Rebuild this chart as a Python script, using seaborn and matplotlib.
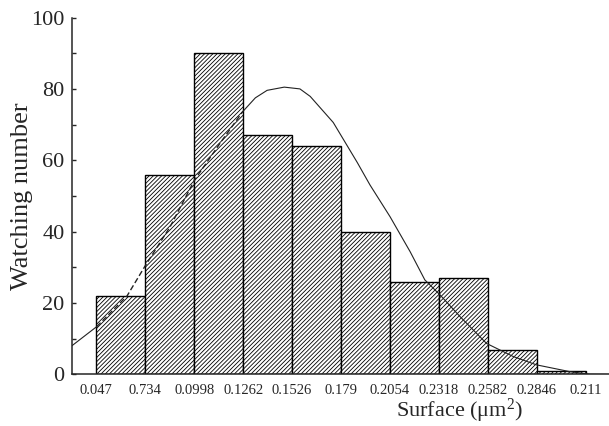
import numpy as np
import pandas as pd
import matplotlib
matplotlib.use("Agg")
import matplotlib.pyplot as plt
import seaborn as sns

# ---- data ----
bins = ["b1", "b2", "b3", "b4", "b5", "b6", "b7", "b8", "b9", "b10"]
counts = [22, 56, 90, 67, 64, 40, 26, 27, 7, 1]
edge_labels = ["0.047", "0.734", "0.0998", "0.1262", "0.1526", "0.179",
               "0.2054", "0.2318", "0.2582", "0.2846", "0.211"]
# fitted curve, x in bar-index units (bar i spans i-0.5 .. i+0.5)
curve_x = [-1.00, -0.49, 0.13, 0.49, 1.01, 1.51, 2.03, 2.49, 2.75, 2.99,
           3.34, 3.66, 3.87, 4.34, 4.83, 5.09, 5.50, 5.91, 6.21, 6.52,
           6.93, 7.47, 8.02, 8.49, 9.17, 9.58, 9.97]
curve_y = [8.0, 13.4, 22.0, 30.2, 41.4, 54.5, 64.8, 73.6, 77.5, 79.6,
           80.5, 80.0, 77.9, 70.6, 59.4, 53.1, 44.2, 34.4, 26.5, 22.3,
           16.2, 8.7, 5.0, 2.7, 0.8, 0.05, 0.0]

sns.set_style("ticks")
plt.rcParams['font.family'] = ['Liberation Serif', 'DejaVu Serif']
plt.rcParams['mathtext.fontset'] = 'custom'
plt.rcParams['mathtext.rm'] = 'Liberation Serif'
plt.rcParams['mathtext.it'] = 'Liberation Serif:italic'
plt.rcParams['hatch.linewidth'] = 0.6
plt.rcParams['hatch.color'] = 'black'

fig = plt.figure(figsize=(6.09, 4.26), dpi=100)
ax = fig.add_axes([0.1177, 0.1209, 0.8823, 0.838])

df = pd.DataFrame({"bin": bins, "count": counts})
sns.barplot(data=df, x="bin", y="count", color="white", edgecolor="black",
            linewidth=1.0, width=1.0, saturation=1, ax=ax, zorder=2)
for p in ax.patches:
    p.set_hatch("////////")
    p.set_facecolor("white")
    p.set_edgecolor("black")

cdf = pd.DataFrame({"x": curve_x, "y": curve_y})
left = cdf[cdf.x <= -0.49]
mid = cdf[(cdf.x >= -0.49) & (cdf.x <= 2.49)]
right = cdf[cdf.x >= 2.49]
sns.lineplot(data=left, x="x", y="y", ax=ax, color="#222222", linewidth=0.8, zorder=3)
sns.lineplot(data=mid, x="x", y="y", ax=ax, color="#222222", linewidth=1.0,
             zorder=3, dashes=False, linestyle=(0, (4, 2)))
sns.lineplot(data=right, x="x", y="y", ax=ax, color="#222222", linewidth=0.8, zorder=3)

ax.set_xlim(-1.0, 9.97)
ax.set_ylim(0, 100)
ax.set_xticks(np.arange(len(edge_labels)) - 0.5)
ax.set_xticklabels(edge_labels, fontsize=10.5)
ax.set_yticks(np.arange(0, 101, 20))
ax.set_yticks(np.arange(10, 100, 20), minor=True)
ax.tick_params(axis='y', which='both', direction='in', length=3, width=1,
               labelsize=16, pad=5)
ax.tick_params(axis='x', which='both', length=0, pad=7)

for s in ["top", "right"]:
    ax.spines[s].set_visible(False)
ax.spines["left"].set_linewidth(1.1)
ax.spines["bottom"].set_linewidth(1.1)

ax.set_ylabel("Watching number", fontsize=19)
ax.yaxis.set_label_coords(-0.072, 0.5)
ax.set_xlabel("Surface (μm$^{2}$)", fontsize=16)
ax.xaxis.set_label_coords(0.7227, -0.062)

fig.savefig("out.png", dpi=100)
